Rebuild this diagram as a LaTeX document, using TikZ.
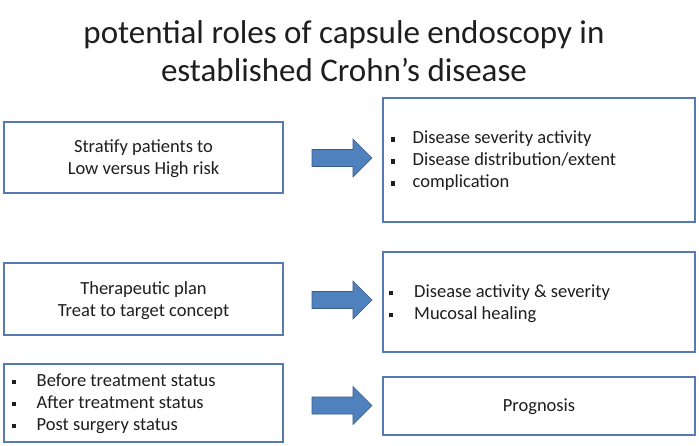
\documentclass[tikz,border=0pt]{standalone}
\usepackage{fontspec}
\setmainfont{Carlito}
\definecolor{boxblue}{RGB}{88,122,178}
\definecolor{arrowblue}{RGB}{79,129,189}
\definecolor{arrowedge}{RGB}{56,93,138}
\definecolor{textgray}{RGB}{30,30,30}
\begin{document}
\begin{tikzpicture}[x=1pt,y=-1pt,
  box/.style={draw=boxblue, line width=1.3pt, fill=white, inner sep=0pt},
  barrow/.style={fill=arrowblue, draw=arrowedge, line width=0.6pt, line join=miter},
  body/.style={font=\fontsize{18.5}{22}\selectfont, text=textgray, inner sep=0pt},
  titlef/.style={font=\fontsize{33}{38}\selectfont, text=textgray, align=center, inner sep=0pt}]
\useasboundingbox (0,0) rectangle (699,445);
\fill[white] (0,0) rectangle (699,445);
\newcommand{\bl}[1][21.5pt]{\makebox[#1][l]{\raisebox{2.3pt}{\rule{4.2pt}{4.2pt}}}}
% title
\node[titlef] (title) at (344,51) {potential roles of capsule endoscopy in\\established Crohn’s disease};
% boxes
\node[box, minimum width=279pt, minimum height=71pt] (b1) at (143.5,157.5) {};
\node[box, minimum width=312pt, minimum height=124pt] (b2) at (539,160) {};
\node[box, minimum width=279pt, minimum height=72pt] (b3) at (143.5,299) {};
\node[box, minimum width=312pt, minimum height=100pt] (b4) at (539,302) {};
\node[box, minimum width=279pt, minimum height=78pt] (b5) at (143.5,403) {};
\node[box, minimum width=312pt, minimum height=58pt] (b6) at (539,406) {};
% texts
\node[body, align=center] (t1) at (143.5,159) {Stratify patients to\\Low versus High risk};
\node[body, align=left, anchor=west] (t2) at (391,161) {\bl Disease severity activity\\\bl Disease distribution/extent\\\bl complication};
\node[body, align=left, anchor=west] (t4) at (389,303.5) {\bl[25pt]Disease activity \& severity\\\bl[25pt]Mucosal healing};
\node[body, align=center] (t3) at (143.5,300.5) {Therapeutic plan\\Treat to target concept};
\node[body, align=left, anchor=west] (t5) at (12,404) {\bl[24.5pt]Before treatment status\\\bl[24.5pt]After treatment status\\\bl[24.5pt]Post surgery status};
\node[body] (t6) at (539,407) {Prognosis};
% block arrows
\coordinate (a1) at (312,158);
\coordinate (a2) at (312,300);
\coordinate (a3) at (312,405.5);
\foreach \a in {a1,a2,a3}{
  \draw[barrow] (\a) ++(0,-8.5) -- ++(41,0) -- ++(0,-10.5) -- ++(19,19) -- ++(-19,19) -- ++(0,-10.5) -- ++(-41,0) -- cycle;
}
\end{tikzpicture}
\end{document}
